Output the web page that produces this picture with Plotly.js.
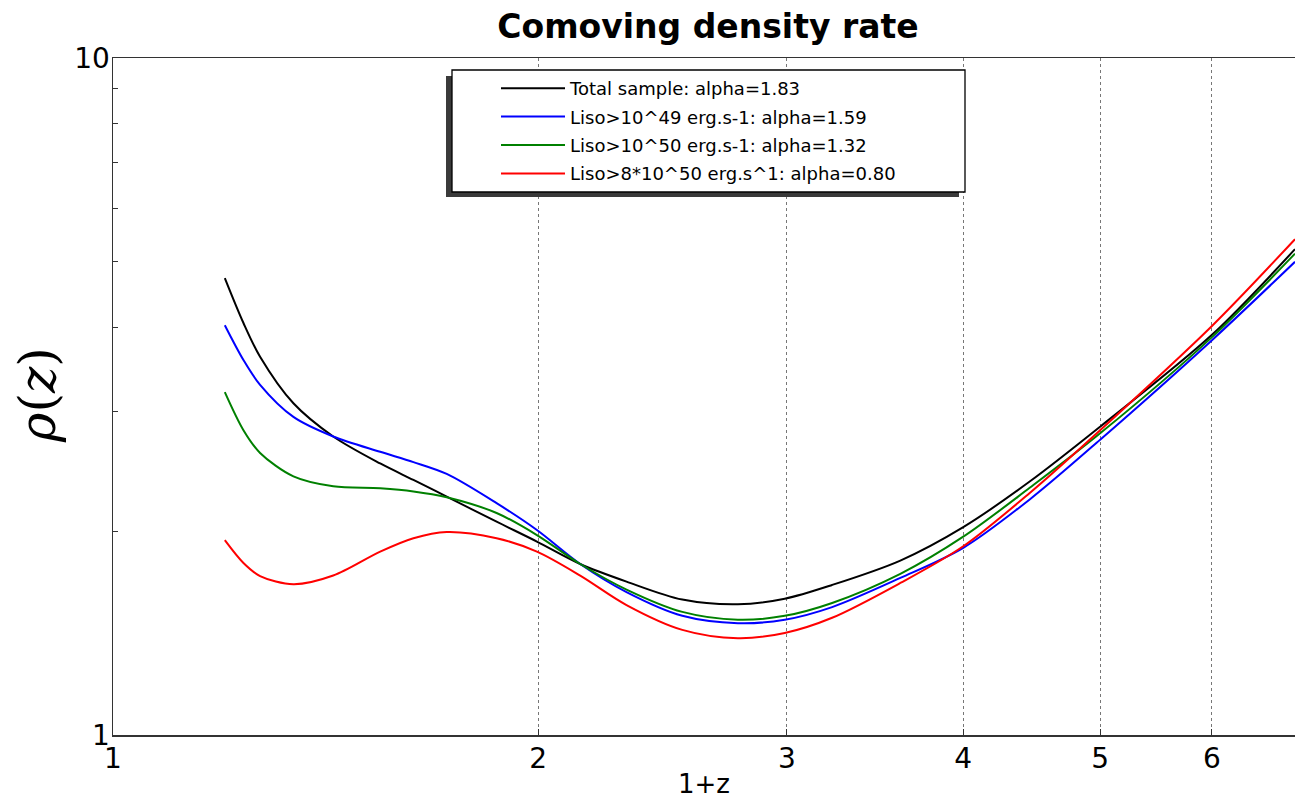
<!DOCTYPE html>
<html>
<head>
<meta charset="utf-8">
<script src="https://cdn.plot.ly/plotly-3.0.1.min.js"></script>
<style>html,body{margin:0;padding:0;overflow:hidden;background:#fff;}</style>
</head>
<body>
<div id="chart" style="width:1295px;height:799px;"></div>
<script>
// 1+z sample points (shared by all series)
const onePlusZ = [1.2, 1.237, 1.271, 1.342, 1.432, 1.546, 1.632, 1.723, 1.869, 1.996, 2.142, 2.31, 2.53, 2.77, 2.99, 3.23, 3.61, 4.0, 4.46, 5.0, 6.0, 6.87];

const rhoTotal = [4.73, 4.06, 3.62, 3.09, 2.76, 2.518, 2.381, 2.25, 2.066, 1.931, 1.789, 1.685, 1.585, 1.56, 1.59, 1.666, 1.81, 2.028, 2.37, 2.854, 3.90, 5.22];
const rhoL49   = [4.03, 3.58, 3.29, 2.95, 2.76, 2.62, 2.53, 2.43, 2.20, 2.008, 1.789, 1.626, 1.50, 1.463, 1.48, 1.545, 1.706, 1.89, 2.23, 2.73, 3.83, 5.00];
const rhoL50   = [3.21, 2.82, 2.61, 2.41, 2.33, 2.314, 2.29, 2.245, 2.128, 1.974, 1.789, 1.64, 1.52, 1.48, 1.50, 1.567, 1.73, 1.963, 2.32, 2.79, 3.87, 5.14];
const rhoL8e50 = [1.94, 1.795, 1.717, 1.67, 1.72, 1.866, 1.953, 1.995, 1.953, 1.866, 1.72, 1.556, 1.43, 1.39, 1.415, 1.49, 1.677, 1.90, 2.28, 2.82, 4.02, 5.40];

const seriesNames = [
  "Total sample: alpha=1.83",
  "Liso>10^49 erg.s-1: alpha=1.59",
  "Liso>10^50 erg.s-1: alpha=1.32",
  "Liso>8*10^50 erg.s^1: alpha=0.80"
];
const seriesColors = ["#000000", "#0000ff", "#008000", "#ff0000"];
const seriesValues = [rhoTotal, rhoL49, rhoL50, rhoL8e50];

const xTickVals = [1, 2, 3, 4, 5, 6];
const yTickVals = [1, 2, 3, 4, 5, 6, 7, 8, 9, 10];
const yTickText = ["1", "", "", "", "", "", "", "", "", "10"];

const titleText = "<b>Comoving density rate</b>";
const xTitle = "1+z";
const yTitle = "<i>ρ</i>(<i>z</i>)";

const traces = seriesValues.map((vals, i) => ({
  x: onePlusZ,
  y: vals,
  type: "scatter",
  mode: "lines",
  name: seriesNames[i],
  legendgroup: "g" + i,
  line: {color: seriesColors[i], width: 2, shape: "spline", smoothing: 0.9}
}));

// layout geometry helpers (pixel -> paper)
const W = 1295, H = 799, mL = 113, mR = 0, mT = 58, mB = 64;
const pw = W - mL - mR, ph = H - mT - mB;
const px = v => (v - mL) / pw;
const py = v => (H - mB - v) / ph;

const font = "DejaVu Sans, Verdana, sans-serif";

const layout = {
  width: W, height: H,
  margin: {l: mL, r: mR, t: mT, b: mB, pad: 0},
  paper_bgcolor: "#ffffff",
  plot_bgcolor: "#ffffff",
  font: {family: font, color: "#000"},
  title: {
    text: titleText,
    font: {family: font, size: 33, color: "#000"},
    x: px(708), xref: "paper", xanchor: "center",
    y: 1 - 26 / H, yref: "container", yanchor: "middle"
  },
  xaxis: {
    type: "log",
    range: [0, Math.log10(6.87)],
    tickvals: xTickVals,
    ticktext: xTickVals.map(String),
    ticks: "inside", ticklen: 6, tickwidth: 1, tickcolor: "#333",
    tickfont: {family: font, size: 28, color: "#000"},
    ticklabelstandoff: -2,
    showgrid: true, gridcolor: "#777", griddash: "dot", gridwidth: 1,
    showline: true, linecolor: "#333", linewidth: 1.5, mirror: true,
    zeroline: false,
    title: {text: xTitle, font: {family: font, size: 26, color: "#000"}, standoff: 2}
  },
  yaxis: {
    type: "log",
    range: [0, 1],
    tickvals: yTickVals,
    ticktext: yTickText,
    ticks: "inside", ticklen: 5, tickwidth: 1, tickcolor: "#333",
    tickfont: {family: font, size: 28, color: "#000"},
    ticklabelstandoff: -4,
    showgrid: false,
    showline: true, linecolor: "#333", linewidth: 1.5, mirror: false,
    zeroline: false
  },
  showlegend: true,
  legend: {
    x: px(496), xanchor: "left",
    y: py(70), yanchor: "top",
    bgcolor: "rgba(0,0,0,0)", borderwidth: 0,
    font: {family: font, size: 18, color: "#000"},
    itemwidth: 64,
    traceorder: "grouped", tracegroupgap: 2
  },
  shapes: [
    {type: "rect", xref: "paper", yref: "paper", layer: "above",
     x0: px(446), x1: px(959), y0: py(197), y1: py(76),
     fillcolor: "#3a3a3a", line: {width: 0}},
    {type: "rect", xref: "paper", yref: "paper", layer: "above",
     x0: px(452), x1: px(965), y0: py(192), y1: py(70),
     fillcolor: "#ffffff", line: {color: "#000", width: 1.3}}
  ],
  annotations: [
    {text: yTitle, xref: "paper", yref: "paper", x: px(38), y: py(395),
     xanchor: "center", yanchor: "middle", textangle: -90, showarrow: false,
     font: {family: "DejaVu Serif, serif", size: 50, color: "#000"}}
  ]
};

Plotly.newPlot("chart", traces, layout, {displayModeBar: false, staticPlot: true});
</script>
</body>
</html>
